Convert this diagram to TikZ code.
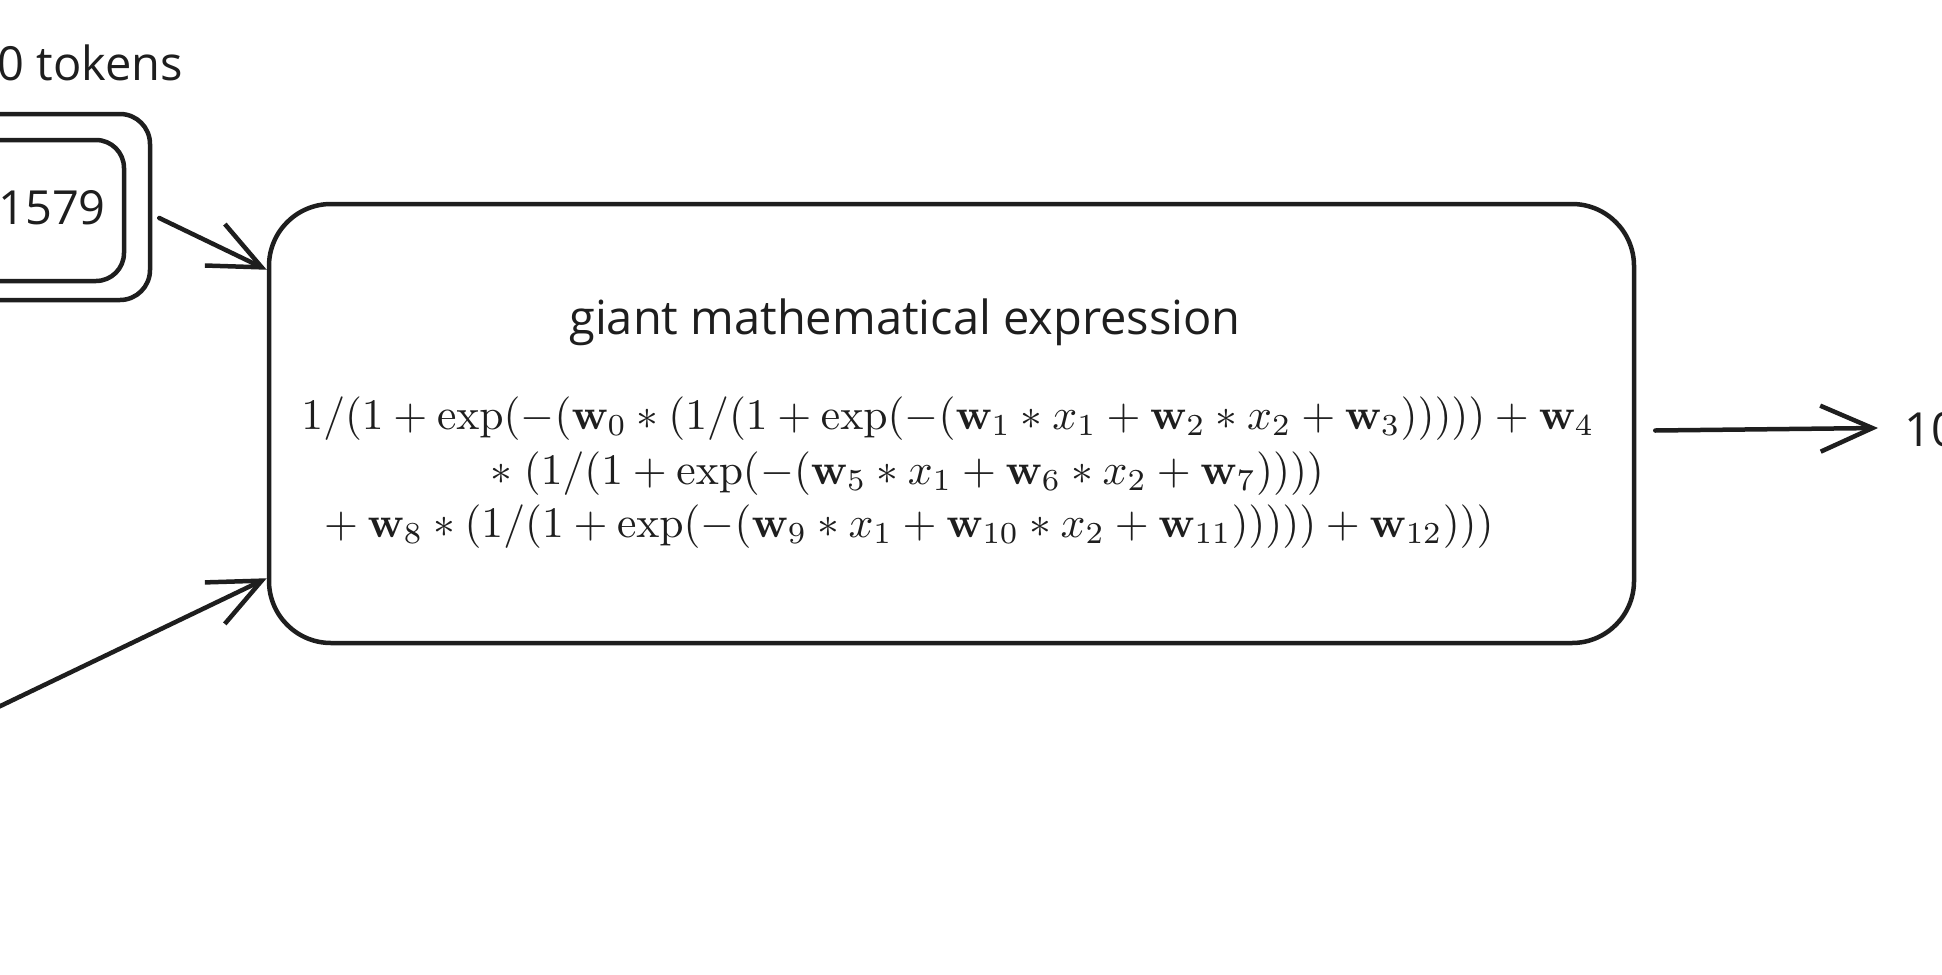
\documentclass[tikz,border=0pt]{standalone}
\usepackage[no-math]{fontspec}
\setmainfont{Open Sans}
\usetikzlibrary{arrows.meta,positioning}
\definecolor{ink}{RGB}{30,30,30}
\tikzset{
  sketchbox/.style={draw=ink, line width=4.5pt, rounded corners=#1, inner sep=0pt},
  sketchbox/.default=30pt,
  label text/.style={text=ink, inner sep=0pt, font=\fontsize{47}{56}\selectfont},
  math line/.style={text=ink, inner sep=0pt, anchor=base, font=\fontsize{10}{12}\selectfont},
  barb arrow/.style={draw=ink, line width=4.5pt, line cap=round,
    -{Straight Barb[length=52pt,width=46pt,line width=4.5pt]}}
}
\newcommand{\bigmath}[1]{\scalebox{4.36}{$#1$}}
\begin{document}
\begin{tikzpicture}[x=1pt,y=1pt,yscale=-1,xscale=1]
  \useasboundingbox (0,0) rectangle (1942,974);
  % token list, cut at the left edge
  \node[label text, anchor=base east] (tokens) at (183,81) {0 tokens};
  \node[sketchbox, minimum width=230pt, minimum height=186pt] (idouter) at (35,207) {};
  \node[sketchbox=28pt, minimum width=204pt, minimum height=141pt] (idinner) at (22,210.5) {};
  \node[label text, anchor=east] (ids) at (106,208) {1579};
  % the expression
  \node[sketchbox=62pt, minimum width=1365pt, minimum height=439pt] (expr) at (951.5,423.5) {};
  \node[label text] (title) at (905,322) {giant mathematical expression};
  \node[math line] (mline1) at (948,429)
    {\bigmath{1/(1+\exp(-(\mathbf{w}_0*(1/(1+\exp(-(\mathbf{w}_1*x_1+\mathbf{w}_2*x_2+\mathbf{w}_3)))))+\mathbf{w}_4}};
  \node[math line] (mline2) at (907,484)
    {\bigmath{*\;(1/(1+\exp(-(\mathbf{w}_5*x_1+\mathbf{w}_6*x_2+\mathbf{w}_7))))}};
  \node[math line] (mline3) at (904,537)
    {\bigmath{{}+\mathbf{w}_8*(1/(1+\exp(-(\mathbf{w}_9*x_1+\mathbf{w}_{10}*x_2+\mathbf{w}_{11})))))+\mathbf{w}_{12})))}};
  % output, cut at the right edge
  \node[label text, anchor=west] (out) at (1904,430) {10};
  \coordinate (lowin) at (-10,711);
  % Arrows
  \draw[barb arrow] ([shift={(7,11)}]idouter.east) -- ([yshift=68pt]expr.north west);
  \draw[barb arrow] (lowin) -- ([yshift=-67pt]expr.south west);
  \draw[barb arrow] ([shift={(19,7)}]expr.east) -- ([xshift=-26pt,yshift=-2pt]out.west);
\end{tikzpicture}
\end{document}
